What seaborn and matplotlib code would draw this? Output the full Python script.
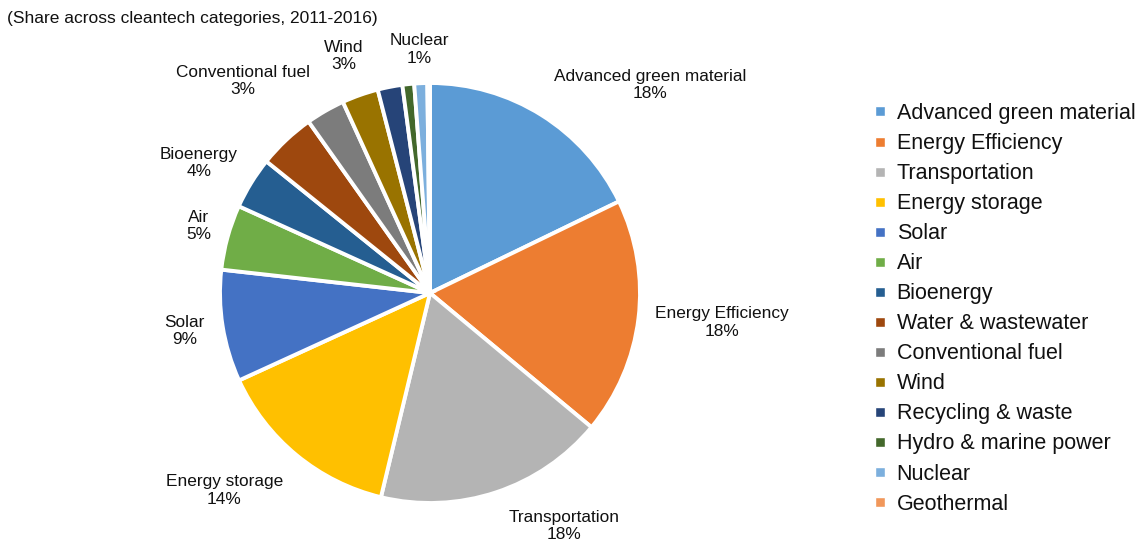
import matplotlib
matplotlib.use('Agg')
import matplotlib.pyplot as plt
from matplotlib.lines import Line2D
import seaborn as sns

# Cleantech category shares, 2011-2016 (percent)
categories = ['Advanced green material', 'Energy Efficiency', 'Transportation',
              'Energy storage', 'Solar', 'Air', 'Bioenergy', 'Water & wastewater',
              'Conventional fuel', 'Wind', 'Recycling & waste',
              'Hydro & marine power', 'Nuclear', 'Geothermal']
shares = [17.8, 18.2, 17.7, 14.4, 8.6, 5.0, 4.0, 4.4, 3.0, 2.8, 1.9, 0.9, 1.0, 0.2]
show_label = [True, True, True, True, True, True, True, False,
              True, True, False, False, True, False]

colors = ['#5B9BD5', '#ED7D31', '#B4B4B4', '#FFC000', '#4472C4', '#70AD47',
          '#255E91', '#9E480E', '#7C7C7C', '#997300', '#264478', '#43682B',
          '#7CAFDD', '#F1975A']

# label centres in data units (pie radius = 1)
label_xy = [(1.05, 0.99), (1.39, -0.14), (0.64, -1.11), (-0.98, -0.94),
            (-1.17, -0.18), (-1.10, 0.32), (-1.10, 0.62), None,
            (-0.89, 1.01), (-0.41, 1.13), None, None, (-0.05, 1.16), None]

sns.set_theme(style='white')
plt.rcParams['font.family'] = ['Liberation Sans', 'DejaVu Sans']

W, H = 1146, 546
fig = plt.figure(figsize=(W / 100, H / 100), dpi=100)

# pie axes: centre at (430, 293) px from top-left, radius 210 px
R = 210
cx, cy = 430, H - 293
half = 253
ax = fig.add_axes([(cx - half) / W, (cy - half) / H, 2 * half / W, 2 * half / H])
lim = half / R

palette = sns.color_palette(colors)
wedges, _ = ax.pie(shares, colors=palette, startangle=90, counterclock=False,
                   radius=1, wedgeprops=dict(edgecolor='white', linewidth=2.8))
ax.set_xlim(-lim, lim)
ax.set_ylim(-lim, lim)
ax.set_aspect('equal')
ax.axis('off')

total = sum(shares)
for name, val, show, xy in zip(categories, shares, show_label, label_xy):
    if not show:
        continue
    ax.text(xy[0], xy[1], f'{name}\n{val / total * 100:.0f}%', ha='center',
            va='center', fontsize=12.4, color='#111111', linespacing=1.2)

fig.text(7 / W, 1 - 18 / H, '(Share across cleantech categories, 2011-2016)',
         ha='left', va='center', fontsize=12.5, color='#111111')

handles = [Line2D([0], [0], marker='s', linestyle='none', markersize=7.5,
                  markerfacecolor=c, markeredgecolor='white') for c in colors]
fig.legend(handles, categories, loc='upper left',
           bbox_to_anchor=(874 / W, 1 - 103 / H), frameon=False,
           fontsize=15.5, handlelength=0.6, handletextpad=0.45,
           labelspacing=0.42, borderaxespad=0, borderpad=0,
           labelcolor='#111111')

fig.savefig('out.png', dpi=100, facecolor='white')
